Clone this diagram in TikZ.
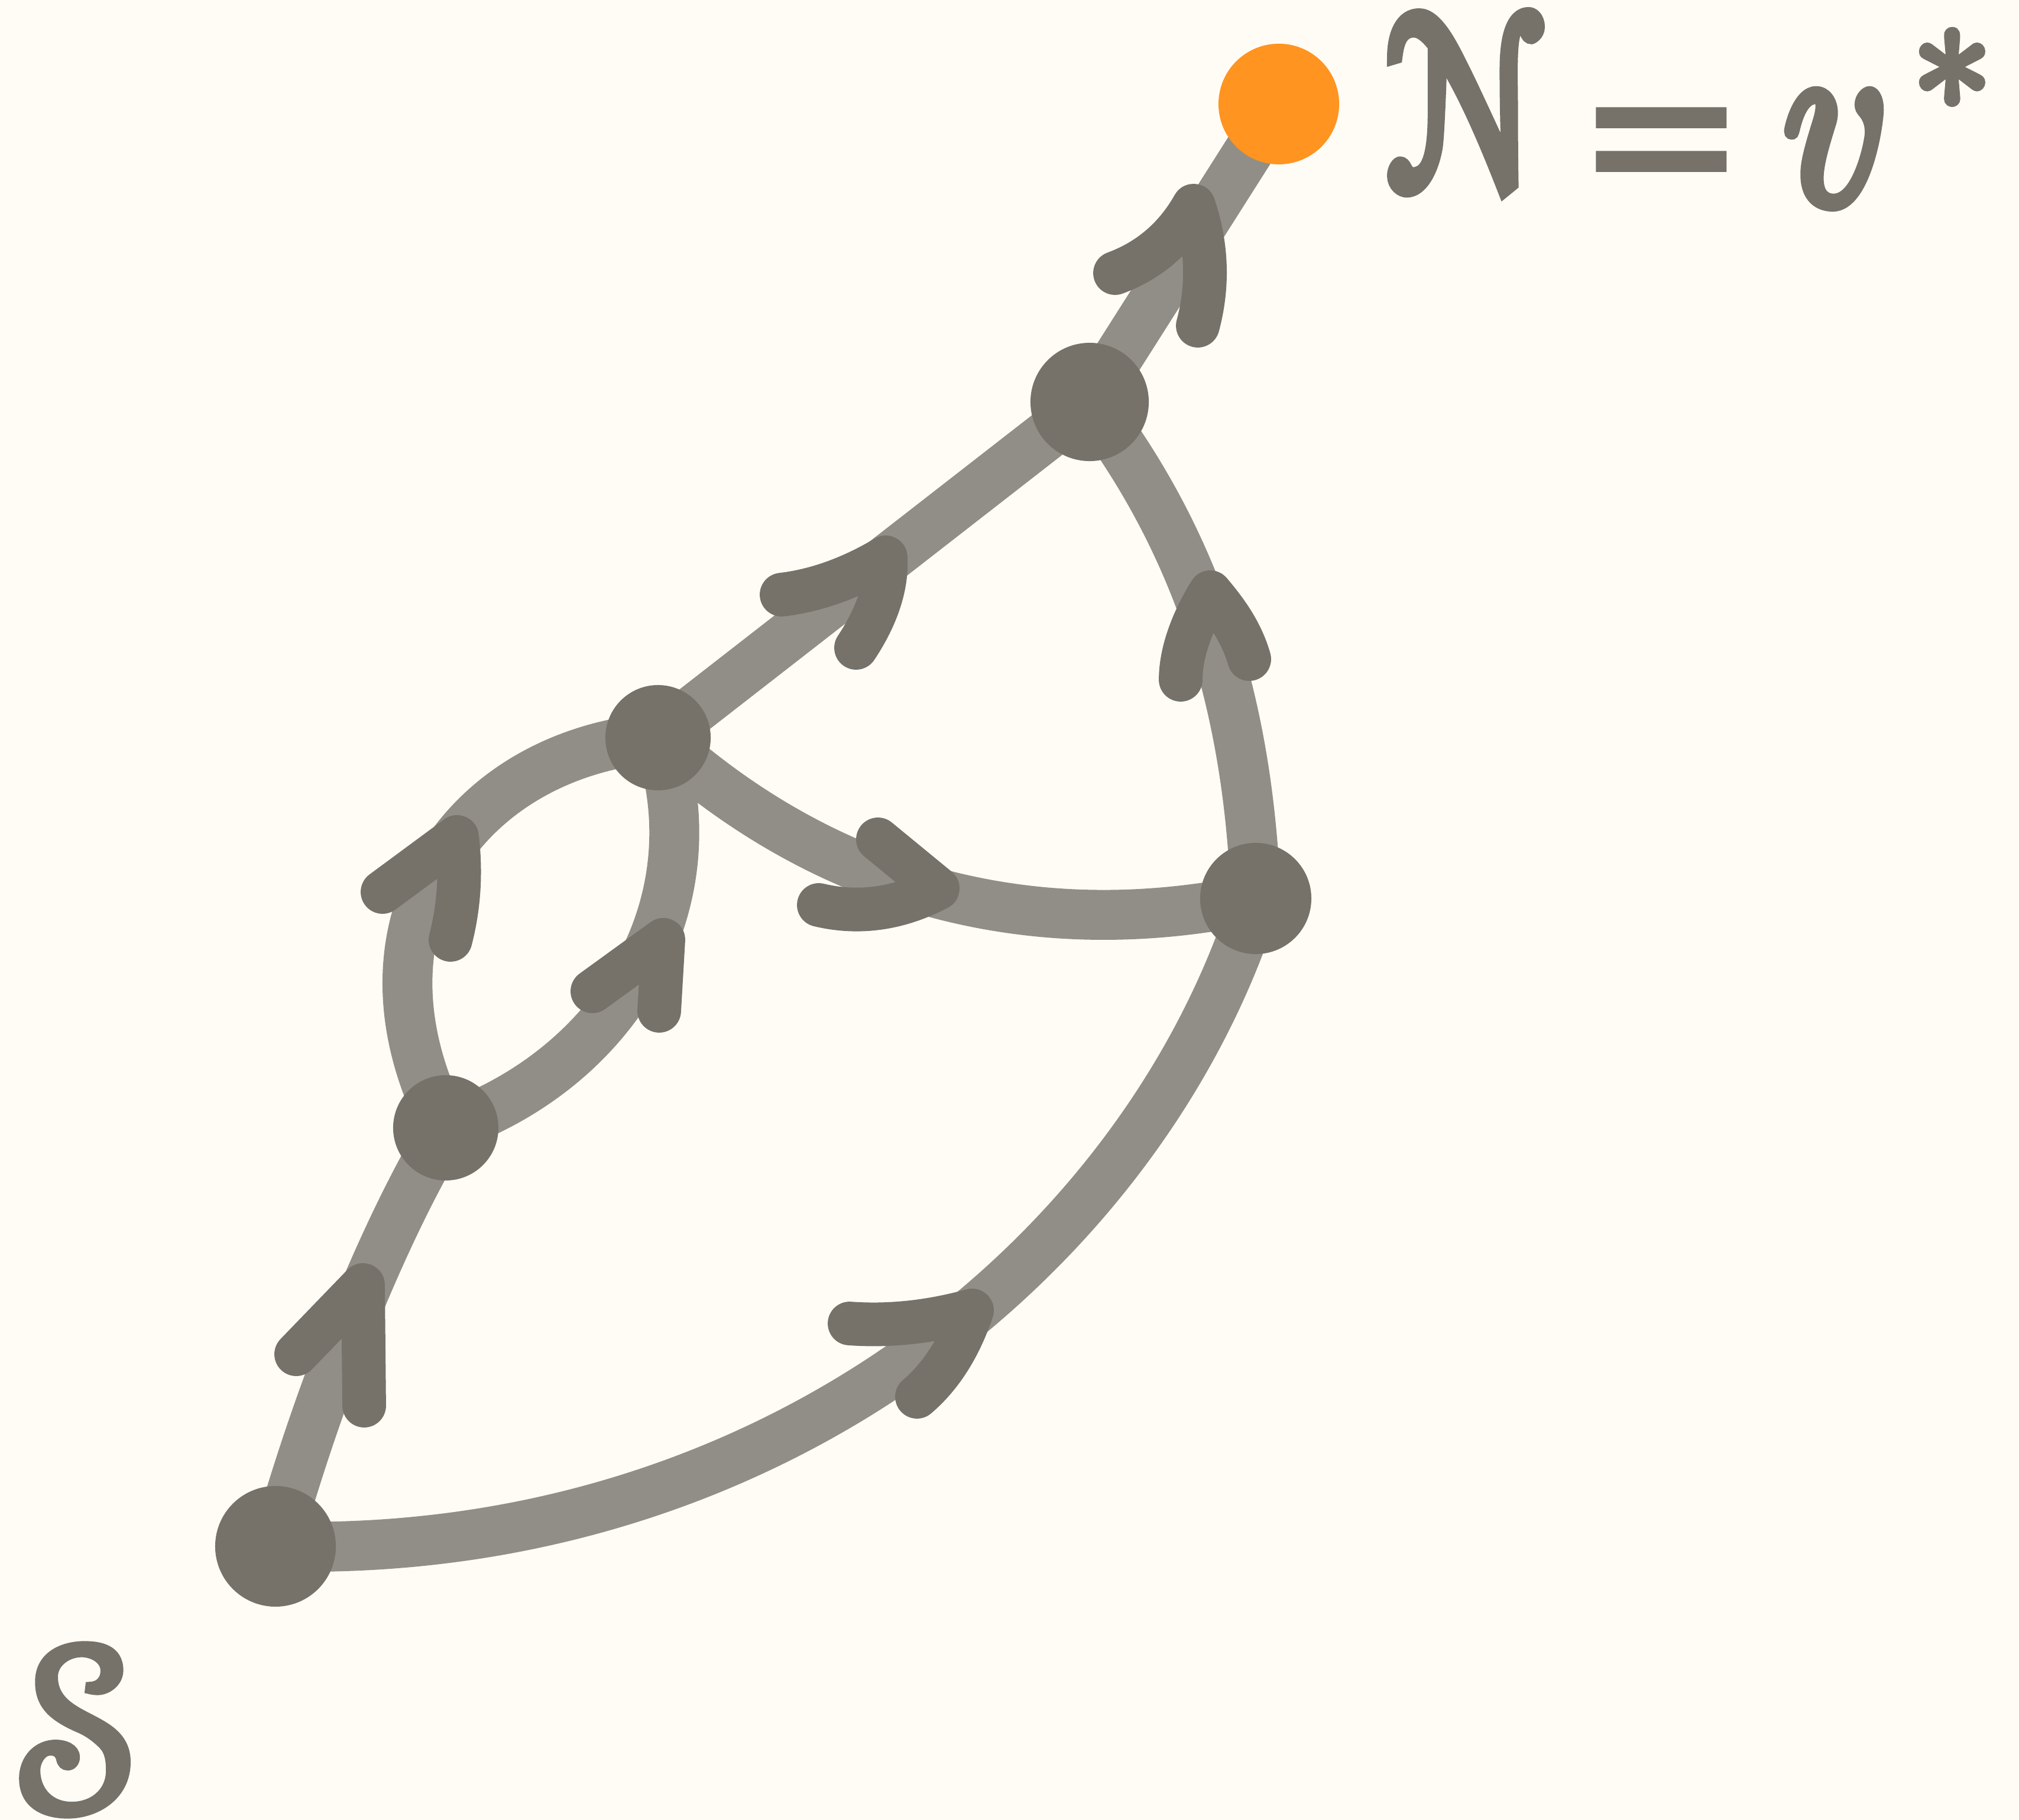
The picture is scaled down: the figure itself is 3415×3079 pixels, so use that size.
\documentclass[tikz,border=0pt]{standalone}
\usepackage{graphicx}
\usepackage{amsmath}
\usepackage[mathcal]{eucal}
\usepackage{fontspec}
\newfontfamily\popfont{Poppins}
\newcommand\heavy[2]{\special{pdf:literal direct 2 Tr #1 w}#2\special{pdf:literal direct 0 Tr}}
\definecolor{bgc}{HTML}{FFFCF6}
\definecolor{nodec}{HTML}{767169}
\definecolor{edgec}{HTML}{918E87}
\definecolor{orangec}{HTML}{FF9420}
\pgfdeclarelayer{bg}
\pgfsetlayers{bg,main}
\begin{document}
\begin{tikzpicture}[x=0.01cm,y=-0.01cm,
  vtx/.style={circle,fill=nodec,inner sep=0pt},
  edge/.style={draw=edgec,line width=24pt,line cap=round},
  chev/.style={draw=nodec,line width=21pt,line cap=round,line join=round},
  lbl/.style={text=nodec,inner sep=0pt}]
\useasboundingbox (0,0) rectangle (3415,3079);
% nodes
\node[vtx,fill=orangec,minimum size=2.04cm] (O) at (2163,176) {};
\node[vtx,minimum size=2.0cm] (C) at (1843,680) {};
\node[vtx,minimum size=1.78cm] (B) at (1113,1248) {};
\node[vtx,minimum size=1.88cm] (D) at (2124,1520) {};
\node[vtx,minimum size=1.78cm] (A) at (754,1908) {};
\node[vtx,minimum size=2.04cm] (S) at (466,2616) {};
% labels
\node[lbl,anchor=base west] (calN) at (2346,320) {\scalebox{9.1}[11.9]{\color{nodec}$\heavy{0.6}{\mathcal{N}}$}};
\node[lbl] (eq) at (2810,274) {\scalebox{1}[0.85]{\color{nodec}\popfont\fontsize{115}{130}\selectfont\heavy{3}{=}}};
\node[lbl] (vv) at (3106,252) {\scalebox{9.8}[12.0]{\color{nodec}$\heavy{0.5}{v}$}};
\node[lbl] (star) at (3302,118) {\scalebox{7.6}[8.0]{\color{nodec}$\heavy{0.5}{\ast}$}};
\node[lbl] (slabel) at (133,2924) {\scalebox{11}[11.4]{\color{nodec}$\heavy{0.35}{\mathcal{S}}$}};
% edges
\begin{pgfonlayer}{bg}
\fill[bgc] (0,0) rectangle (3415,3079);
\draw[edge] (S.center) .. controls (534,2374) and (638,2102) .. (A.center);
\draw[edge] (S.center) .. controls (1307,2640) and (1938,2113) .. (D.center);
\draw[edge] (A.center) .. controls (577,1568) and (784,1274) .. (B.center);
\draw[edge] (A.center) .. controls (1045,1808) and (1209,1525) .. (B.center);
\draw[edge] (B.center) -- (C.center);
\draw[edge] (B.center) .. controls (1394,1503) and (1742,1601) .. (D.center);
\draw[edge] (D.center) .. controls (2113,1220) and (2040,937) .. (C.center);
\draw[edge] (C.center) -- (O.center);
\end{pgfonlayer}
% chevrons
\draw[chev] (1886,462) .. controls (1943,441) and (1988,403) .. (2019,348) .. controls (2042,416) and (2044,484) .. (2026,551);
\draw[chev] (1322,1006) .. controls (1381,999) and (1439,978) .. (1498,943) .. controls (1501,995) and (1480,1048) .. (1448,1096);
\draw[chev] (1997,1150) .. controls (1997,1100) and (2020,1045) .. (2047,1002) .. controls (2075,1035) and (2100,1070) .. (2113,1115);
\draw[chev] (1485,1420) -- (1586,1503) .. controls (1519,1538) and (1452,1547) .. (1385,1531);
\draw[chev] (647,1509) -- (773,1416) .. controls (780,1474) and (777,1532) .. (762,1590);
\draw[chev] (1002,1677) -- (1122,1590) -- (1115,1710);
\draw[chev] (501,2291) -- (614,2174) -- (616,2378);
\draw[chev] (1437,2239) .. controls (1506,2244) and (1575,2236) .. (1644,2217) .. controls (1623,2279) and (1592,2328) .. (1551,2363);
\end{tikzpicture}
\end{document}
